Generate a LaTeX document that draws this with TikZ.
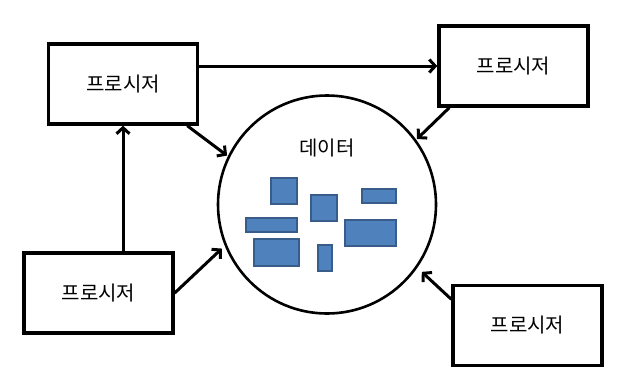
\documentclass[tikz,border=0pt]{standalone}
\usepackage{fontspec}
\setmainfont{Noto Sans CJK KR}
\usetikzlibrary{arrows.meta}
\definecolor{blockfill}{RGB}{79,129,189}
\definecolor{blockline}{RGB}{56,93,138}

\begin{document}
\begin{tikzpicture}[x=1pt, y=1pt,
  procbox/.style={draw=black, line width=3.4pt, minimum width=149pt, minimum height=80pt, inner sep=0pt, font=\fontsize{20}{24}\selectfont},
  store/.style={draw=black, circle, line width=2.6pt, minimum size=218pt, inner sep=0pt},
  flow/.style={black, line width=3pt, -{Straight Barb[length=6pt,width=13pt]}},
  datablock/.style={fill=blockfill, draw=blockline, line width=1.8pt}]
\useasboundingbox (0,0) rectangle (623,-386);

\node[procbox] (proctl) at (123,-84) {프로시저};
\node[procbox] (proctr) at (513.5,-66) {프로시저};
\node[procbox] (procbl) at (98.5,-293) {프로시저};
\node[procbox] (procbr) at (527.5,-325.5) {프로시저};

\node[store] (data) at (327,-204.5) {};
\node[font=\fontsize{20}{24}\selectfont] (datalabel) at (327,-148) {데이터};

%\filldraw[blockfill] (0,0) rectangle (1,1);
\draw[datablock] (271,-178) rectangle (297,-204);
\draw[datablock] (311,-195) rectangle (337,-221);
\draw[datablock] (362,-189) rectangle (396,-203);
\draw[datablock] (246,-218) rectangle (297,-232);
\draw[datablock] (345,-220) rectangle (396,-246);
\draw[datablock] (254,-239) rectangle (299,-266);
\draw[datablock] (318,-245) rectangle (332,-271);

\draw[flow] (proctl.east |- proctr.west) -- (proctr.west);
\draw[flow] (proctl.south |- procbl.north) -- (proctl.south);
\draw[flow, shorten >=1pt] (proctl.-33) -- (data.154);
\draw[flow, shorten >=4pt] (procbl.east) -- (data.202);
\draw[flow, shorten >=1pt] (proctr.213) -- (data.36);
\draw[flow, shorten >=6pt] (procbr.161) -- (data.-35);
\end{tikzpicture}
\end{document}
